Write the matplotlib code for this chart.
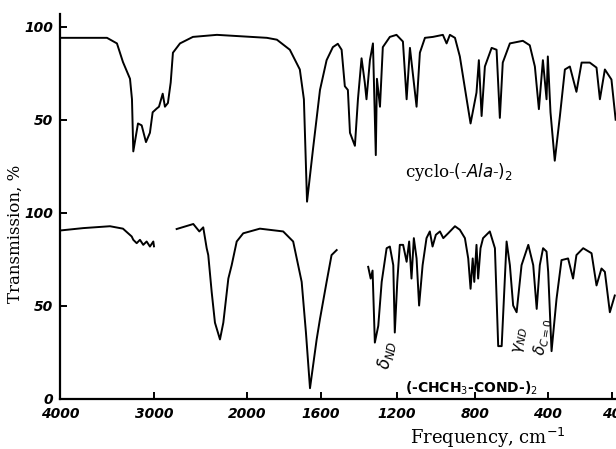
import matplotlib
matplotlib.use("Agg")
import matplotlib.pyplot as plt
import numpy as np

# upper spectrum: cyclo-(-Ala-)2, wavenumber (cm-1) / transmission (%)
upper_wn = [3979, 3500, 3394, 3330, 3255, 3234, 3220, 3170, 3131, 3085, 3043, 3014,
            2971, 2946, 2906, 2882, 2850, 2820, 2796, 2720, 2581, 2323,
            1892, 1838, 1768, 1714, 1692, 1675, 1643, 1605,
            1570, 1537, 1511, 1491, 1474, 1458, 1447, 1421, 1405, 1386, 1369, 1360,
            1342, 1326, 1311, 1305, 1289, 1274, 1237, 1202,
            1169, 1150, 1133, 1099, 1082, 1056, 1015, 964, 945, 928, 902, 877, 842, 822,
            791, 778, 763, 745, 708, 681, 663, 647, 608, 537, 499, 471, 449, 427, 407, 400,
            385, 361, 332, 304, 276, 239, 210, 164, 126, 107, 79, 42, 18]
upper_t = [94, 94, 91, 81, 72, 61, 33, 48, 47, 38, 43, 54,
           56, 57, 64, 57, 59, 70, 86, 91, 94.5, 95.6,
           94, 93, 87.6, 77, 61, 6, 34, 66,
           82, 89, 90.8, 87.6, 68, 66, 43, 36, 61, 83, 70, 61,
           82, 91, 31, 72, 57, 89, 94.5, 95.6,
           92, 61, 88.6, 57, 86, 94, 94.5, 95.6, 91, 95.6, 94, 84, 61, 48,
           64.6, 82, 52, 78.6, 88.6, 87.6, 51, 80.7, 91, 92.4, 90, 78.6, 55.7, 82, 61, 84,
           54, 28, 52, 77, 78.6, 65, 80.7, 80.7, 78, 61, 77, 71.6, 50]

# lower spectrum: (-CHCH3-COND-)2, three recorded ranges
lower_a_wn = [3982, 3752, 3468, 3330, 3237, 3220, 3184, 3149, 3114, 3078, 3043, 3007, 3000]
lower_a_t = [90.6, 91.8, 92.8, 91.5, 87.3, 85.5, 83.7, 85.5, 82.8, 84.6, 81.9, 84.6, 82]

lower_b_wn = [2756, 2577, 2512, 2470, 2433, 2416, 2379, 2344, 2290, 2254, 2200, 2164,
              2110, 2040, 1930, 1804, 1750, 1704, 1681, 1659, 1623, 1605, 1570, 1544, 1517]
lower_b_t = [91.3, 94, 90, 92.2, 81, 77.3, 57.4, 41, 32, 41, 64.7, 71.9,
             84.6, 89, 91.5, 90, 84.6, 62.9, 35.8, 5.8, 32, 43, 62.9, 77.3, 80]

lower_c_wn = [1351, 1338, 1328, 1316, 1298, 1280, 1254, 1237, 1219, 1211, 1198, 1185,
              1168, 1150, 1137, 1125, 1113, 1099, 1086, 1068, 1048, 1031, 1017, 1000,
              979, 962, 936, 902, 877, 851, 834, 822, 811, 803, 791, 782, 769, 755,
              718, 690, 672, 653, 626, 608, 590, 571, 544, 507, 480, 461, 444, 426,
              407, 398, 379, 351, 323, 286, 258, 239, 201, 154, 126, 98, 79, 51, 23]
lower_c_t = [71, 64.7, 69, 30.3, 39.3, 62.9, 81, 81.9, 71.9, 35.7, 62.9, 82.8,
             82.8, 73.7, 84.6, 64.7, 86.4, 75.5, 50.2, 71.9, 86.4, 90, 81.9, 88.2,
             90, 86.4, 89.1, 92.8, 90.9, 86.4, 75.5, 59.2, 75.5, 62.9, 82.8, 64.7, 81, 86.4,
             90, 81, 28.4, 28.4, 84.6, 71.9, 50.2, 46.6, 71.9, 82.8, 71.9, 48.4, 71.9, 81,
             79.2, 68.3, 25.7, 53.8, 74.6, 75.5, 64.7, 77.3, 81, 78.3, 61, 70.1, 68.3, 46.6, 55.6]

x_ticks = [4000, 3000, 2000, 1600, 1200, 800, 400, 40]
x_labels = ["4000", "3000", "2000", "1600", "1200", "800", "400", "40"]
y_ticks = [0, 50, 100, 150, 200]
y_labels = ["0", "50", "100", "50", "100"]

# the chart paper changes scale along the axis
brk_wn = np.array([0, 40, 400, 800, 1200, 1600, 2000, 3000, 4000], dtype=float)
brk_pos = -np.array([619, 612, 548, 475, 397, 321, 247, 154, 60], dtype=float)


def forward(w):
    return np.interp(w, brk_wn, brk_pos)


def inverse(p):
    return np.interp(p, brk_pos, brk_wn)


tick_font = dict(family="DejaVu Sans", weight="bold", style="italic", size=10)

fig = plt.figure(figsize=(6.16, 4.49), dpi=100)
ax = fig.add_axes([60 / 616, 1 - 399 / 449, 1 - 60 / 616, (399 - 14) / 449])
ax.set_xscale("function", functions=(forward, inverse))

offset = 100
ax.plot(upper_wn, np.array(upper_t) + offset, color="black", lw=1.4)
for wn, t in [(lower_a_wn, lower_a_t), (lower_b_wn, lower_b_t), (lower_c_wn, lower_c_t)]:
    ax.plot(wn, t, color="black", lw=1.4)

ax.set_xlim(4000, 16)
ax.set_ylim(0, 206.8)
ax.spines["top"].set_visible(False)
ax.spines["right"].set_visible(False)
ax.spines["left"].set_linewidth(1.6)
ax.spines["bottom"].set_linewidth(1.6)

ax.set_xticks(x_ticks)
ax.set_xticklabels(x_labels, fontdict=tick_font)
ax.set_yticks(y_ticks)
ax.set_yticklabels(y_labels, fontdict=tick_font)
ax.tick_params(axis="both", direction="in", length=5, width=1.4)
ax.tick_params(axis="x", pad=6)
ax.tick_params(axis="y", pad=5)

serif = "DejaVu Serif"
ax.set_ylabel("Transmission, %", family=serif, size=12)
ax.yaxis.set_label_coords(-0.065, 0.43)
fig.text(410 / 616, 1 - 438 / 449, "Frequency, cm$^{-1}$", family=serif, size=13,
         va="center", ha="left")

fig.text(405 / 616, 1 - 172 / 449, r"cyclo-$\mathit{(}$-$\mathit{Ala}$-$\mathit{)}_2$",
         family=serif, size=12, va="center", ha="left")

fig.text(405 / 616, 1 - 388 / 449, r"(-CHCH$_3$-COND-)$_2$", va="center", ha="left",
         family="DejaVu Sans", weight="bold", size=10)
fig.text(387 / 616, 1 - 355 / 449, r"$\delta_{ND}$", rotation=80, va="center",
         ha="center", size=12)
fig.text(520 / 616, 1 - 340 / 449, r"$\gamma_{ND}$", rotation=80, va="center",
         ha="center", size=11)
fig.text(543 / 616, 1 - 337 / 449, r"$\delta_{C=0}$", rotation=80, va="center",
         ha="center", size=11)

fig.savefig("out.png", dpi=100)
